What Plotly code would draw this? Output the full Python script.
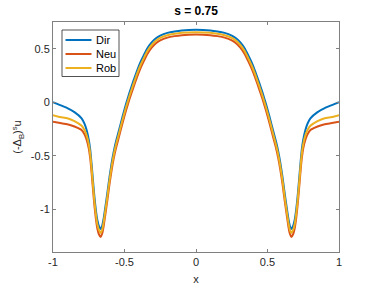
import plotly.graph_objects as go

x_left = [-1, -0.95, -0.9, -0.85, -0.8, -0.78, -0.765, -0.75, -0.74, -0.73, -0.72, -0.71, -0.7, -0.69,
          -0.678, -0.667, -0.655, -0.645, -0.635, -0.62, -0.605, -0.59, -0.575, -0.56, -0.54, -0.515,
          -0.49, -0.465, -0.44, -0.415, -0.39, -0.365, -0.34, -0.31, -0.28, -0.25, -0.2, -0.15, -0.1, 0]
x_right = [0.1, 0.15, 0.2, 0.25, 0.28, 0.31, 0.34, 0.365, 0.39, 0.415, 0.44, 0.465, 0.49, 0.515, 0.54,
           0.56, 0.575, 0.59, 0.605, 0.62, 0.635, 0.645, 0.655, 0.667, 0.678, 0.69, 0.7, 0.71, 0.72,
           0.73, 0.74, 0.75, 0.765, 0.78, 0.8, 0.85, 0.9, 0.95, 1]

dir_left = [0.0, -0.027, -0.055, -0.092, -0.15, -0.20, -0.26, -0.35, -0.44, -0.58, -0.74, -0.89, -1.01, -1.10,
            -1.16, -1.185, -1.15, -1.08, -0.99, -0.85, -0.70, -0.57, -0.46, -0.37, -0.27, -0.14,
            -0.02, 0.09, 0.19, 0.285, 0.37, 0.44, 0.505, 0.56, 0.598, 0.623, 0.648, 0.662, 0.671, 0.677]
dir_right = [0.671, 0.662, 0.648, 0.623, 0.598, 0.56, 0.505, 0.44, 0.37, 0.285, 0.19, 0.09, -0.02, -0.14, -0.27,
             -0.37, -0.46, -0.57, -0.70, -0.85, -0.99, -1.08, -1.15, -1.185, -1.16, -1.10, -1.01, -0.89, -0.74,
             -0.58, -0.44, -0.35, -0.26, -0.20, -0.15, -0.092, -0.055, -0.027, 0.0]

neu_left = [-0.183, -0.195, -0.205, -0.227, -0.26, -0.30, -0.35, -0.43, -0.52, -0.66, -0.82, -0.97, -1.09, -1.18,
            -1.237, -1.26, -1.223, -1.151, -1.06, -0.918, -0.766, -0.634, -0.522, -0.43, -0.33, -0.20,
            -0.08, 0.03, 0.13, 0.226, 0.312, 0.384, 0.451, 0.51, 0.551, 0.578, 0.604, 0.618, 0.627, 0.633]
neu_right = [0.627, 0.618, 0.604, 0.578, 0.551, 0.51, 0.451, 0.384, 0.312, 0.226, 0.13, 0.03, -0.08, -0.20, -0.33,
             -0.43, -0.522, -0.634, -0.766, -0.918, -1.06, -1.151, -1.223, -1.26, -1.237, -1.18, -1.09, -0.97, -0.82,
             -0.66, -0.52, -0.43, -0.35, -0.30, -0.26, -0.227, -0.205, -0.195, -0.183]

rob_left = [-0.121, -0.139, -0.150, -0.177, -0.22, -0.26, -0.31, -0.39, -0.48, -0.62, -0.78, -0.93, -1.05, -1.14,
            -1.198, -1.222, -1.186, -1.115, -1.025, -0.884, -0.733, -0.602, -0.491, -0.40, -0.30, -0.17,
            -0.05, 0.06, 0.16, 0.255, 0.341, 0.412, 0.478, 0.535, 0.575, 0.601, 0.626, 0.640, 0.649, 0.655]
rob_right = [0.649, 0.640, 0.626, 0.601, 0.575, 0.535, 0.478, 0.412, 0.341, 0.255, 0.16, 0.06, -0.05, -0.17, -0.30,
             -0.40, -0.491, -0.602, -0.733, -0.884, -1.025, -1.115, -1.186, -1.222, -1.198, -1.14, -1.05, -0.93, -0.78,
             -0.62, -0.48, -0.39, -0.31, -0.26, -0.22, -0.177, -0.150, -0.139, -0.121]

x = x_left + x_right
dir_vals = dir_left + dir_right
neu_vals = neu_left + neu_right
rob_vals = rob_left + rob_right

series_names = ["Dir", "Neu", "Rob"]
colors = ["#0072BD", "#D95319", "#EDB120"]

x_ticks = [-1, -0.5, 0, 0.5, 1]
x_tick_text = ["-1", "-0.5", "0", "0.5", "1"]
y_ticks = [-1, -0.5, 0, 0.5]
y_tick_text = ["-1", "-0.5", "0", "0.5"]

W, H = 374, 288
ML, MR, MT, MB = 53, 35, 22, 36
PW, PH = W - ML - MR, H - MT - MB


def px(xp):
    return (xp - ML) / PW


def py(yp):
    return (H - MB - yp) / PH


fig = go.Figure()
for name, vals, c in zip(series_names, [dir_vals, neu_vals, rob_vals], colors):
    fig.add_trace(go.Scatter(x=x, y=vals, mode="lines", name=name, showlegend=False,
                             line=dict(color=c, width=2, shape="spline", smoothing=0.5)))

# legend box drawn in the MATLAB style
shapes = [dict(type="rect", xref="paper", yref="paper", x0=px(62), x1=px(119), y0=py(76.5), y1=py(30),
               line=dict(color="#262626", width=0.8), fillcolor="white", layer="above")]
annotations = []
legend_y = [40, 54, 68]
for name, c, yy in zip(series_names, colors, legend_y):
    shapes.append(dict(type="line", xref="paper", yref="paper", x0=px(65.5), x1=px(91.5), y0=py(yy), y1=py(yy),
                       line=dict(color=c, width=2), layer="above"))
    annotations.append(dict(text=name, xref="paper", yref="paper", x=px(94), y=py(yy), xanchor="left",
                            yanchor="middle", showarrow=False,
                            font=dict(family="Liberation Sans", size=11, color="black")))

axis_common = dict(showgrid=False, zeroline=False, showline=True, linecolor="#808080", linewidth=1,
                   mirror="ticks", ticks="inside", ticklen=3, tickcolor="#808080", automargin=False,
                   tickfont=dict(family="Liberation Sans", size=11, color="#262626"))

fig.update_layout(
    width=W, height=H,
    margin=dict(l=ML, r=MR, t=MT, b=MB),
    paper_bgcolor="white", plot_bgcolor="white",
    title=dict(text="<b>s = 0.75</b>", x=(ML + W - MR) / 2 / W, xanchor="center", y=1 - 11 / H, yanchor="middle",
               font=dict(family="Liberation Sans", size=12, color="black")),
    xaxis=dict(range=[-1, 1], tickvals=x_ticks, ticktext=x_tick_text,
               title=dict(text="x", standoff=8, font=dict(family="Liberation Sans", size=11, color="#262626")),
               **axis_common),
    yaxis=dict(range=[-1.4, 0.75], tickvals=y_ticks, ticktext=y_tick_text,
               title=dict(text="(-Δ<sub>B</sub>)<sup>s</sup>u", standoff=6,
                          font=dict(family="Liberation Sans", size=11, color="#262626")),
               **axis_common),
    shapes=shapes,
    annotations=annotations,
    showlegend=False,
)

fig.write_html("out.html", config={"displayModeBar": False},
               post_script="document.body.style.margin='0';document.body.style.overflow='hidden';")
